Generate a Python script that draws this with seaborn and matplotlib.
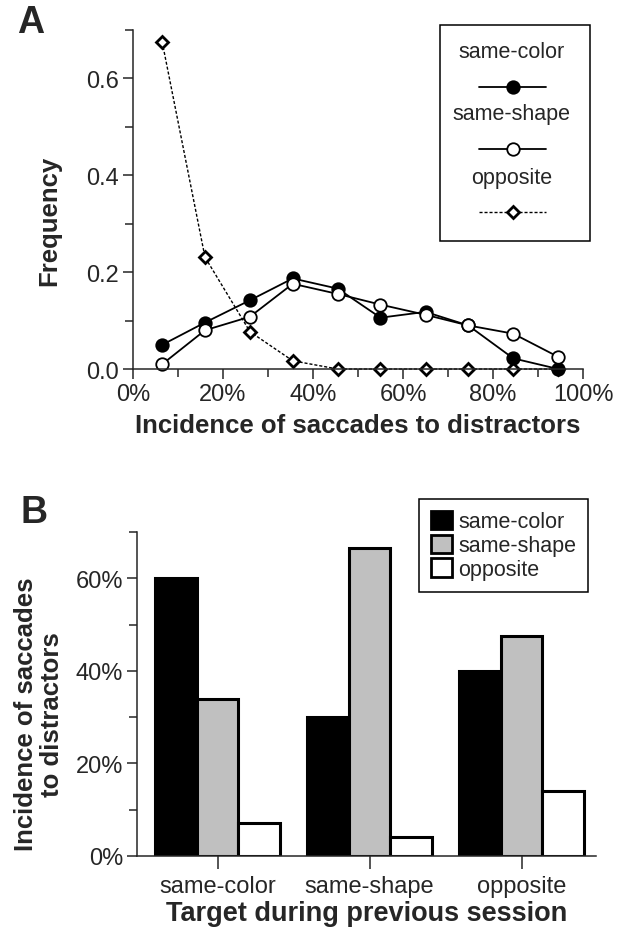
import matplotlib
matplotlib.use("Agg")
import matplotlib.pyplot as plt
from matplotlib.lines import Line2D
from matplotlib.patches import Rectangle, Patch
from matplotlib.ticker import MultipleLocator, FuncFormatter
import seaborn as sns
import pandas as pd

# panel A: distribution of incidence per session
bin_pos = [6.5, 16, 26, 35.5, 45.5, 55, 65, 74.5, 84.5, 94.5]
freq_same_color = [0.05, 0.096, 0.142, 0.187, 0.166, 0.106, 0.118, 0.09, 0.022, 0.0]
freq_same_shape = [0.01, 0.08, 0.108, 0.176, 0.155, 0.133, 0.112, 0.09, 0.073, 0.025]
freq_opposite = [0.675, 0.231, 0.077, 0.017, 0.0, 0.0, 0.0, 0.0, 0.0, 0.0]

# panel B: incidence by previous target
prev_targets = ["same-color", "same-shape", "opposite"]
distractor_types = ["same-color", "same-shape", "opposite"]
inc_same_color = [60.0, 30.1, 39.9]
inc_same_shape = [34.0, 66.5, 47.5]
inc_opposite = [7.2, 4.1, 14.1]

sns.set_style("ticks")
plt.rcParams["font.family"] = ["Liberation Sans", "DejaVu Sans"]
plt.rcParams["axes.linewidth"] = 1.1
plt.rcParams["xtick.major.width"] = 1.1
plt.rcParams["ytick.major.width"] = 1.1
plt.rcParams["xtick.minor.width"] = 1.1
plt.rcParams["ytick.minor.width"] = 1.1

fig = plt.figure(figsize=(6.29, 9.37), dpi=100)
axA = fig.add_axes([0.2114, 0.6051, 0.7155, 0.3618])
axB = fig.add_axes([0.2178, 0.0854, 0.7297, 0.3458])

tick_fs = 17
leg_fs = 15.5
lab_fs = 18.5

# ---- panel A
sns.lineplot(x=bin_pos, y=freq_opposite, ax=axA, color="black", linewidth=1.0,
             linestyle=(0, (2.2, 1.4)), marker="D", markersize=6.5,
             markerfacecolor="white", markeredgecolor="black", markeredgewidth=2.0)
sns.lineplot(x=bin_pos, y=freq_same_color, ax=axA, color="black", linewidth=1.3,
             marker="o", markersize=9, markerfacecolor="black",
             markeredgecolor="black", markeredgewidth=1.3)
sns.lineplot(x=bin_pos, y=freq_same_shape, ax=axA, color="black", linewidth=1.3,
             marker="o", markersize=9, markerfacecolor="white",
             markeredgecolor="black", markeredgewidth=1.3)
for ln in axA.lines:
    ln.set_clip_on(False)

axA.set_xlim(0, 100)
axA.set_ylim(0, 0.7)
axA.xaxis.set_major_locator(MultipleLocator(20))
axA.xaxis.set_minor_locator(MultipleLocator(10))
axA.yaxis.set_major_locator(MultipleLocator(0.2))
axA.yaxis.set_minor_locator(MultipleLocator(0.1))
axA.xaxis.set_major_formatter(FuncFormatter(lambda v, p: f"{v:.0f}%"))
axA.yaxis.set_major_formatter(FuncFormatter(lambda v, p: f"{v:.1f}"))
axA.tick_params(axis="both", which="major", length=7, labelsize=tick_fs, pad=3)
axA.tick_params(axis="both", which="minor", length=6)
sns.despine(ax=axA)
axA.set_xlabel("Incidence of saccades to distractors", fontsize=lab_fs,
               fontweight="bold")
axA.xaxis.set_label_coords(0.5, -0.13)
axA.set_ylabel("Frequency", fontsize=lab_fs, fontweight="bold")
axA.yaxis.set_label_coords(-0.16, 0.44)

# legend of panel A: label above each sample line
axA.add_patch(Rectangle((0.682, 0.378), 0.334, 0.637, transform=axA.transAxes,
                        facecolor="white", edgecolor="black", linewidth=1.1,
                        clip_on=False, zorder=5))
leg_rows = [
    ("same-color", 0.938, 0.832, dict(marker="o", markersize=9, mfc="black", ls="-")),
    ("same-shape", 0.755, 0.649, dict(marker="o", markersize=9, mfc="white", ls="-")),
    ("opposite", 0.566, 0.463, dict(marker="D", markersize=6.5, mfc="white",
                                    ls=(0, (2.2, 1.4)))),
]
for name, ty, ly, st in leg_rows:
    axA.text(0.842, ty, name, transform=axA.transAxes, ha="center", va="center",
             fontsize=leg_fs, zorder=6)
    axA.add_line(Line2D([0.769, 0.918], [ly, ly], transform=axA.transAxes,
                        color="black", linewidth=1.3 if st["ls"] == "-" else 1.0,
                        linestyle=st["ls"], clip_on=False, zorder=6))
    axA.add_line(Line2D([0.8435], [ly], transform=axA.transAxes, marker=st["marker"],
                        markersize=st["markersize"], markerfacecolor=st["mfc"],
                        markeredgecolor="black",
                        markeredgewidth=2.0 if st["marker"] == "D" else 1.3,
                        linestyle="none", clip_on=False, zorder=7))

fig.text(0.027, 0.975, "A", fontsize=27, fontweight="bold", ha="left", va="center")

# ---- panel B
df = pd.DataFrame({
    "prev": prev_targets * 3,
    "kind": [distractor_types[0]] * 3 + [distractor_types[1]] * 3 + [distractor_types[2]] * 3,
    "value": inc_same_color + inc_same_shape + inc_opposite,
})
bar_colors = ["black", "#c0c0c0", "white"]
sns.barplot(data=df, x="prev", y="value", hue="kind", order=prev_targets,
            hue_order=distractor_types, palette=bar_colors, saturation=1,
            width=0.82, edgecolor="black", linewidth=2.2, legend=False, ax=axB)

axB.set_xlim(-0.53, 2.49)
axB.set_ylim(0, 70)
axB.yaxis.set_major_locator(MultipleLocator(20))
axB.yaxis.set_minor_locator(MultipleLocator(10))
axB.yaxis.set_major_formatter(FuncFormatter(lambda v, p: f"{v:.0f}%"))
axB.tick_params(axis="both", which="major", length=7, labelsize=tick_fs, pad=3)
axB.tick_params(axis="y", which="minor", length=6)
axB.tick_params(axis="x", which="major", length=9, pad=5)
sns.despine(ax=axB)
axB.set_xlabel("Target during previous session", fontsize=19.5, fontweight="bold")
axB.xaxis.set_label_coords(0.5, -0.135)
axB.set_ylabel("Incidence of saccades\nto distractors", fontsize=lab_fs,
               fontweight="bold", linespacing=1.1)
axB.yaxis.set_label_coords(-0.16, 0.44)

handles = [Patch(facecolor=c, edgecolor="black", linewidth=2.0) for c in bar_colors]
leg = axB.legend(handles, distractor_types, loc="upper right",
                 bbox_to_anchor=(0.9826, 1.102), fontsize=leg_fs, frameon=True,
                 fancybox=False, framealpha=1, edgecolor="black", borderaxespad=0,
                 handlelength=0.95, handleheight=0.95, handletextpad=0.3,
                 labelspacing=0.1, borderpad=0.55)
leg.get_frame().set_linewidth(1.1)

fig.text(0.032, 0.452, "B", fontsize=27, fontweight="bold", ha="left", va="center")

fig.savefig("out.png", dpi=100)
